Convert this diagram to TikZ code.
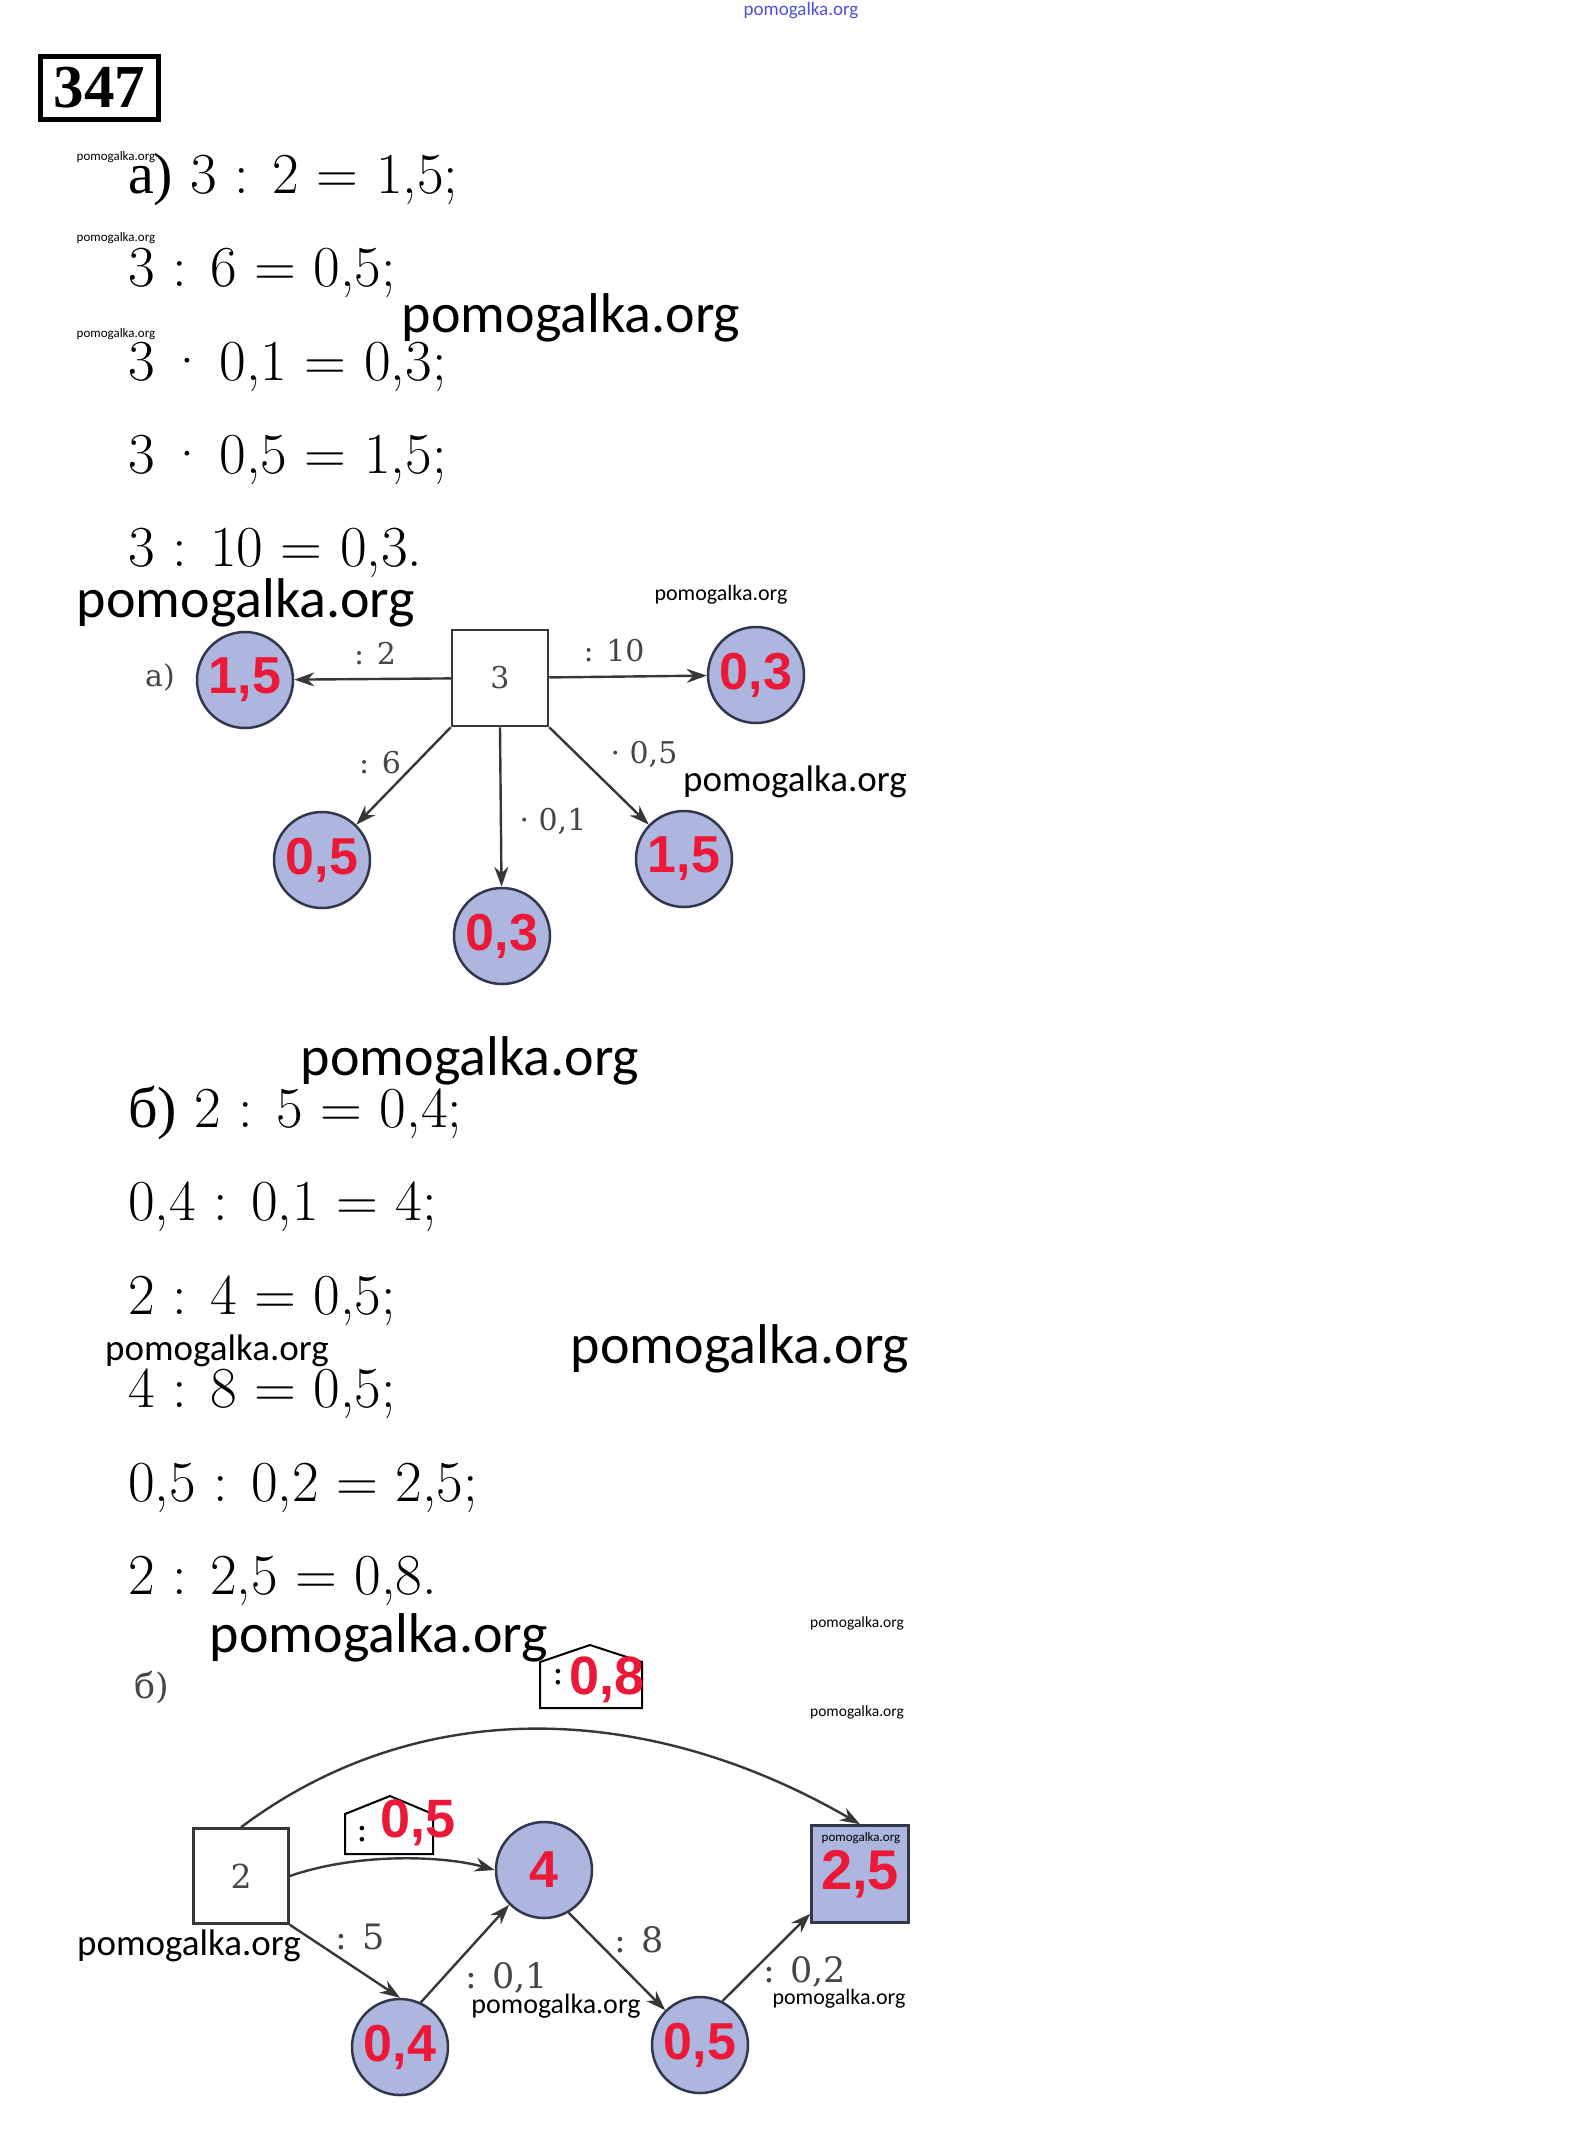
\documentclass[tikz,border=0pt]{standalone}
\usepackage{fontspec}
\usetikzlibrary{arrows.meta}
\newfontfamily\cyr{Liberation Serif}
\newfontfamily\wmfont{Carlito}
\newfontfamily\labfont{DejaVu Serif}
\newfontfamily\valfont{Liberation Sans}
\definecolor{circfill}{RGB}{172,182,222}
\definecolor{circline}{RGB}{50,55,75}
\definecolor{numred}{RGB}{235,25,55}
\definecolor{labgray}{RGB}{70,70,70}
\definecolor{linegray}{RGB}{55,55,55}
\definecolor{wmblue}{RGB}{80,80,215}
\newcommand{\md}{\hspace{0.2em}·\hspace{0.2em}}
\begin{document}
\begin{tikzpicture}[x=1pt, y=-1pt,
    eq/.style={anchor=base west, inner sep=0, font=\fontsize{58}{60}\selectfont},
    wm/.style={inner sep=0, text=black, font=\wmfont\fontsize{#1}{#1}\selectfont},
    lab/.style={inner sep=0, text=labgray, font=\labfont\fontsize{30}{30}\selectfont},
    labb/.style={inner sep=0, text=labgray, font=\labfont\fontsize{35}{35}\selectfont},
    box/.style={rectangle, draw=linegray, line width=2.5pt, fill=white, minimum size=96pt,
      inner sep=0, text=labgray, font=\labfont\fontsize{30}{30}\selectfont},
    val/.style={circle, draw=circline, line width=2.5pt, fill=circfill, minimum size=96pt,
      inner sep=0, text=numred, font=\valfont\bfseries\fontsize{52}{52}\selectfont},
    valbox/.style={val, rectangle, minimum size=97pt, font=\valfont\bfseries\fontsize{56}{56}\selectfont},
    hval/.style={inner sep=0, text=numred, font=\valfont\bfseries\fontsize{54}{54}\selectfont},
    house/.style={draw=black, line width=2pt, fill=white},
    arr/.style={draw=linegray, line width=2.4pt, -{Stealth[length=20pt,width=14pt]}}]
  \fill[white] (0,0) rectangle (1594,2148);
  \useasboundingbox (0,0) rectangle (1594,2148);

  % number of the exercise
  \node[draw, line width=5pt, minimum width=118pt, minimum height=63pt, inner sep=0,
    font=\cyr\bfseries\fontsize{61}{61}\selectfont] (num) at (99.5,88) {347};

  % part a, equations
  \node[eq] (ea1) at (128,193) {{\cyr а)} 3 : 2 = 1,5;};
  \node[eq] (ea2) at (128,286) {3 : 6 = 0,5;};
  \node[eq] (ea3) at (128,380) {3\md 0,1 = 0,3;};
  \node[eq] (ea4) at (128,473) {3\md 0,5 = 1,5;};
  \node[eq] (ea5) at (128,566) {3 : 10 = 0,3.};

  % part a, scheme
  \node[lab] (pa) at (160,677) {а)};
  \node[box] (sq3) at (500,678) {3};
  \node[val] (c15l) at (245,680) {1,5};
  \node[val] (c03r) at (756,675) {0,3};
  \node[val] (c05) at (322,860) {0,5};
  \node[val] (c03b) at (502,936) {0,3};
  \node[val] (c15r) at (684,859) {1,5};

  \draw[arr] (sq3) -- (c15l);
  \draw[arr] (sq3) -- (c03r);
  \draw[arr] (sq3.south west) -- (c05);
  \draw[arr] (sq3.south) -- (c03b);
  \draw[arr] (sq3.south east) -- (c15r);

  \node[lab] (l2) at (375,654) {: 2};
  \node[lab] (l10) at (614,651) {: 10};
  \node[lab] (l6) at (380,763) {: 6};
  \node[lab] (l01) at (553,821) {· 0,1};
  \node[lab] (l05) at (644,754) {· 0,5};

  % part b, equations
  \node[eq] (eb1) at (128,1127) {{\cyr б)} 2 : 5 = 0,4;};
  \node[eq] (eb2) at (128,1220) {0,4 : 0,1 = 4;};
  \node[eq] (eb3) at (128,1314) {2 : 4 = 0,5;};
  \node[eq] (eb4) at (128,1407) {4 : 8 = 0,5;};
  \node[eq] (eb5) at (128,1501) {0,5 : 0,2 = 2,5;};
  \node[eq] (eb6) at (128,1594) {2 : 2,5 = 0,8.};

  % part b, scheme
  \node[labb] (pb) at (152,1688) {б)};
  \node[box, minimum size=95pt, font=\labfont\fontsize{33}{33}\selectfont] (sq2) at (241,1876) {2};
  \node[val] (c4) at (544,1870) {4};
  \node[val] (c04) at (400,2047) {0,4};
  \node[val] (c05b) at (700,2045) {0,5};
  \node[valbox] (sq25) at (860,1874) {2,5};

  \draw[house] (540,1708) -- (540,1662) -- (590,1645) -- (642,1662) -- (642,1708) -- cycle;
  \node[labb, text=black] (h08c) at (558,1677) {:};
  \node[hval] (h08) at (607,1680) {0,8};
  \draw[house] (345,1854) -- (345,1814) -- (390,1796) -- (433,1814) -- (433,1854) -- cycle;
  \node[labb, text=black] (h05c) at (362,1834) {:};
  \node[hval] (h05) at (418,1823) {0,5};

  \draw[arr] (sq2.north) .. controls +(176,-132) and +(-216,-125) .. (sq25.north);
  \draw[arr] (sq2.east) .. controls +(70,-24) and +(-50,-14) .. (c4.west);
  \draw[arr] (sq2.south east) -- (c04.north);
  \draw[arr] (c04.65) -- (c4.south west);
  \draw[arr] (c4.300) -- (c05b.north west);
  \draw[arr] (c05b.63) -- ([yshift=10pt]sq25.south west);

  \node[labb] (l5) at (360,1937) {: 5};
  \node[labb] (l01b) at (507,1978) {: 0,1};
  \node[labb] (l8) at (639,1940) {: 8};
  \node[labb] (l02) at (805,1972) {: 0,2};

  % site marks
  \node[wm=19, text=wmblue] (w0) at (801,11) {pomogalka.org};
  \node[wm=13] (w1) at (116,157) {pomogalka.org};
  \node[wm=13] (w2) at (116,238) {pomogalka.org};
  \node[wm=13] (w3) at (116,334) {pomogalka.org};
  \node[wm=56] (w4) at (571,318) {pomogalka.org};
  \node[wm=56] (w5) at (246,603) {pomogalka.org};
  \node[wm=22] (w6) at (721,595) {pomogalka.org};
  \node[wm=37] (w7) at (795,782) {pomogalka.org};
  \node[wm=56] (w8) at (470,1061) {pomogalka.org};
  \node[wm=37] (w9) at (217,1351) {pomogalka.org};
  \node[wm=56] (w10) at (740,1349) {pomogalka.org};
  \node[wm=56] (w11) at (379,1638) {pomogalka.org};
  \node[wm=15.5] (w12) at (857,1623) {pomogalka.org};
  \node[wm=15.5] (w13) at (857,1712) {pomogalka.org};
  \node[wm=13] (w14) at (861,1838) {pomogalka.org};
  \node[wm=37] (w15) at (189,1946) {pomogalka.org};
  \node[wm=28] (w16) at (556,2006) {pomogalka.org};
  \node[wm=22] (w17) at (839,1999) {pomogalka.org};
\end{tikzpicture}
\end{document}
